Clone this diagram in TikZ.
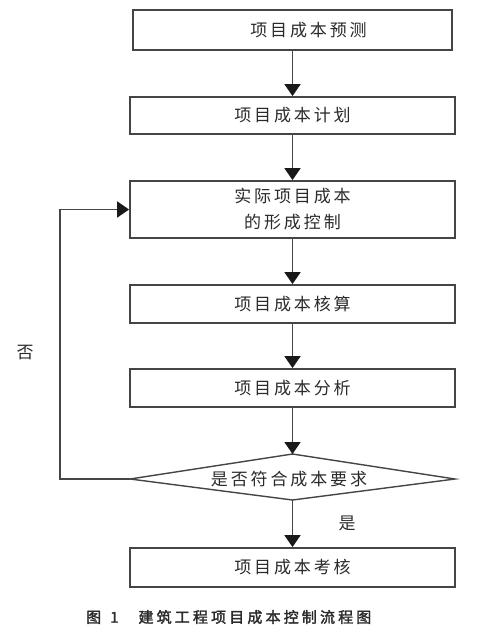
\documentclass[tikz,border=0pt]{standalone}
\usepackage{fontspec}
\setmainfont{Noto Sans CJK SC}
\newfontfamily\boxfont[LetterSpace=17]{Noto Sans CJK SC}
\newfontfamily\capfont[LetterSpace=21,FakeBold=2]{Noto Sans CJK SC}
\usetikzlibrary{arrows.meta}
\definecolor{linec}{HTML}{454545}
\definecolor{textc}{HTML}{2A2A2A}
\tikzset{
  stepbox/.style={draw=linec, line width=1.8pt, minimum width=325pt, inner sep=0pt,
    font=\boxfont\fontsize{17pt}{26pt}\selectfont, text=textc, align=center},
  flow/.style={draw=linec, line width=1.8pt, -{Triangle[width=16pt,length=12pt,color=black!90]}},
  lbl/.style={font=\boxfont\fontsize{17pt}{20pt}\selectfont, text=textc, inner sep=0pt}
}
\begin{document}
\begin{tikzpicture}[x=1pt,y=-1pt]
\useasboundingbox (0,0) rectangle (497,631);
\node[stepbox, minimum width=319pt, minimum height=40pt] (b1) at (292.5,30) {\hspace*{32pt}项目成本预测};
\node[stepbox, minimum height=37pt] (b2) at (292.5,115.5) {项目成本计划};
\node[stepbox, minimum height=57pt] (b3) at (292.5,209.5) {实际项目成本\\的形成控制};
\node[stepbox, minimum height=38pt] (b4) at (292.5,304) {项目成本核算};
\node[stepbox, minimum height=38pt] (b5) at (292.5,388) {项目成本分析};
\coordinate (dt) at (292.5,454);
\coordinate (dr) at (455,479);
\coordinate (db) at (292.5,500);
\coordinate (dl) at (130,479);
\draw[linec, line width=1.4pt, line join=miter] (dt) -- (dr) -- (db) -- (dl) -- cycle;
\node[lbl] (dec) at (289,479) {是否符合成本要求};
\node[stepbox, minimum height=39pt] (b6) at (292.5,567.5) {项目成本考核};
\coordinate (corner) at (60,479);
\draw[flow] (b1) -- (b2);
\draw[flow] (b2) -- (b3);
\draw[flow] (b3) -- (b4);
\draw[flow] (b4) -- (b5);
\draw[flow] (b5) -- (dt);
\draw[flow] (db) -- (b6);
\draw[flow] (dl) -- (corner) |- (b3.west);
\node[lbl] (yes) at (347,523) {是};
\node[lbl] (no) at (25,353) {否};
\node[font=\capfont\fontsize{15pt}{18pt}\selectfont, text=textc, inner sep=0pt, anchor=west] (cap) at (86,617) {图\hspace{9pt}1\hspace{20pt}建筑工程项目成本控制流程图};
\end{tikzpicture}
\end{document}
